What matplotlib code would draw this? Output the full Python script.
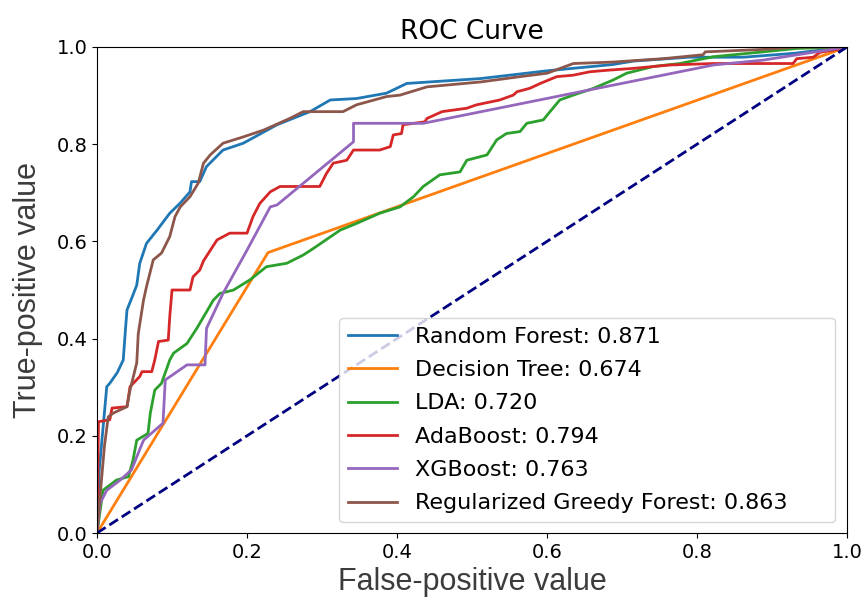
import matplotlib.pyplot as plt

# ROC points, (fpr, tpr)
rf_roc = [(0, 0), (0.003, 0.13), (0.013, 0.301), (0.017, 0.308), (0.027, 0.33), (0.035, 0.356),
          (0.038, 0.42), (0.04, 0.459), (0.048, 0.49), (0.053, 0.51), (0.057, 0.555), (0.066, 0.596),
          (0.08, 0.623), (0.097, 0.658), (0.111, 0.679), (0.124, 0.702), (0.126, 0.723), (0.137, 0.723),
          (0.146, 0.754), (0.168, 0.788), (0.195, 0.802), (0.24, 0.84), (0.284, 0.867), (0.311, 0.891),
          (0.346, 0.894), (0.386, 0.905), (0.413, 0.925), (0.511, 0.935), (0.6, 0.951), (0.688, 0.964),
          (0.715, 0.971), (0.789, 0.979), (0.862, 0.979), (0.929, 0.987), (1, 1)]

dt_roc = [(0, 0), (0.228, 0.577), (1, 1)]

lda_roc = [(0, 0), (0.008, 0.088), (0.026, 0.109), (0.042, 0.116), (0.048, 0.15), (0.053, 0.191),
           (0.068, 0.205), (0.071, 0.246), (0.077, 0.294), (0.086, 0.308), (0.097, 0.356), (0.102, 0.37),
           (0.12, 0.39), (0.133, 0.421), (0.146, 0.455), (0.155, 0.479), (0.164, 0.493), (0.182, 0.5),
           (0.204, 0.521), (0.226, 0.548), (0.253, 0.555), (0.275, 0.572), (0.288, 0.585), (0.324, 0.623),
           (0.346, 0.637), (0.377, 0.658), (0.404, 0.671), (0.422, 0.692), (0.435, 0.713), (0.457, 0.737),
           (0.484, 0.743), (0.493, 0.767), (0.52, 0.778), (0.533, 0.809), (0.546, 0.822), (0.564, 0.826),
           (0.573, 0.843), (0.595, 0.85), (0.604, 0.867), (0.617, 0.891), (0.635, 0.901), (0.662, 0.915),
           (0.688, 0.932), (0.706, 0.946), (0.742, 0.96), (0.777, 0.966), (0.822, 0.98), (0.888, 0.99),
           (0.933, 0.997), (1, 1)]

ada_roc = [(0, 0), (0.002, 0.229), (0.017, 0.233), (0.02, 0.257), (0.04, 0.26), (0.044, 0.301),
           (0.057, 0.322), (0.06, 0.332), (0.073, 0.332), (0.077, 0.356), (0.082, 0.394), (0.095, 0.397),
           (0.097, 0.445), (0.1, 0.5), (0.124, 0.5), (0.128, 0.527), (0.137, 0.541), (0.142, 0.56),
           (0.16, 0.603), (0.177, 0.617), (0.2, 0.617), (0.208, 0.651), (0.217, 0.678), (0.231, 0.702),
           (0.244, 0.713), (0.297, 0.713), (0.306, 0.74), (0.315, 0.761), (0.333, 0.767), (0.342, 0.788),
           (0.377, 0.788), (0.391, 0.795), (0.395, 0.819), (0.406, 0.822), (0.408, 0.84), (0.437, 0.846),
           (0.44, 0.853), (0.46, 0.867), (0.493, 0.874), (0.506, 0.881), (0.537, 0.891), (0.555, 0.901),
           (0.56, 0.908), (0.577, 0.915), (0.591, 0.925), (0.613, 0.939), (0.635, 0.942), (0.657, 0.949),
           (0.679, 0.952), (0.715, 0.956), (0.764, 0.963), (0.822, 0.966), (0.928, 0.966), (0.933, 0.976),
           (0.955, 0.979), (0.964, 0.989), (0.995, 0.997), (1, 1)]

xgb_roc = [(0, 0), (0.004, 0.061), (0.013, 0.088), (0.031, 0.109), (0.046, 0.13), (0.062, 0.191),
           (0.088, 0.226), (0.091, 0.315), (0.12, 0.346), (0.144, 0.346), (0.146, 0.421), (0.168, 0.493),
           (0.2, 0.582), (0.231, 0.671), (0.24, 0.675), (0.342, 0.805), (0.342, 0.843), (0.435, 0.843),
           (0.822, 0.963), (0.888, 0.973), (1, 1)]

rgf_roc = [(0, 0), (0.004, 0.075), (0.01, 0.18), (0.015, 0.239), (0.022, 0.247), (0.04, 0.26),
           (0.044, 0.294), (0.053, 0.35), (0.055, 0.41), (0.062, 0.479), (0.066, 0.507), (0.075, 0.562),
           (0.086, 0.576), (0.097, 0.61), (0.104, 0.651), (0.111, 0.671), (0.124, 0.692), (0.135, 0.72),
           (0.142, 0.761), (0.151, 0.778), (0.168, 0.802), (0.195, 0.815), (0.222, 0.829), (0.257, 0.853),
           (0.275, 0.867), (0.328, 0.867), (0.346, 0.881), (0.386, 0.898), (0.404, 0.901), (0.44, 0.918),
           (0.511, 0.928), (0.564, 0.939), (0.6, 0.946), (0.635, 0.966), (0.688, 0.969), (0.755, 0.976),
           (0.808, 0.984), (0.811, 0.99), (0.888, 0.995), (0.933, 1.0), (1, 1)]

names = ['Random Forest', 'Decision Tree', 'LDA', 'AdaBoost', 'XGBoost', 'Regularized Greedy Forest']
aucs = [0.871, 0.674, 0.720, 0.794, 0.763, 0.863]
curves = [rf_roc, dt_roc, lda_roc, ada_roc, xgb_roc, rgf_roc]

fig = plt.figure(figsize=(8.63, 6.01), dpi=100)
ax = fig.add_axes([0.1124, 0.1131, 0.8691, 0.8087])

for name, auc, pts in zip(names, aucs, curves):
    fpr = [p[0] for p in pts]
    tpr = [p[1] for p in pts]
    ax.plot(fpr, tpr, lw=2, label='%s: %.3f' % (name, auc))

ax.plot([0, 1], [0, 1], color='navy', lw=2, linestyle='--')

ax.set_xlim(0, 1)
ax.set_ylim(0, 1)
ax.tick_params(labelsize=14)
ax.set_title('ROC Curve', fontsize=19)
ax.set_xlabel('False-positive value', fontsize=22, family='Liberation Sans', color='#3c3c3c', labelpad=4)
ax.set_ylabel('True-positive value', fontsize=22, family='Liberation Sans', color='#3c3c3c', labelpad=10)
ax.legend(loc='lower left', bbox_to_anchor=(0.323, 0.022, 0.661, 0.3), mode='expand',
          borderaxespad=0, fontsize=16, labelspacing=0.6, handlelength=2.2)

fig.savefig('out.png', dpi=100)
